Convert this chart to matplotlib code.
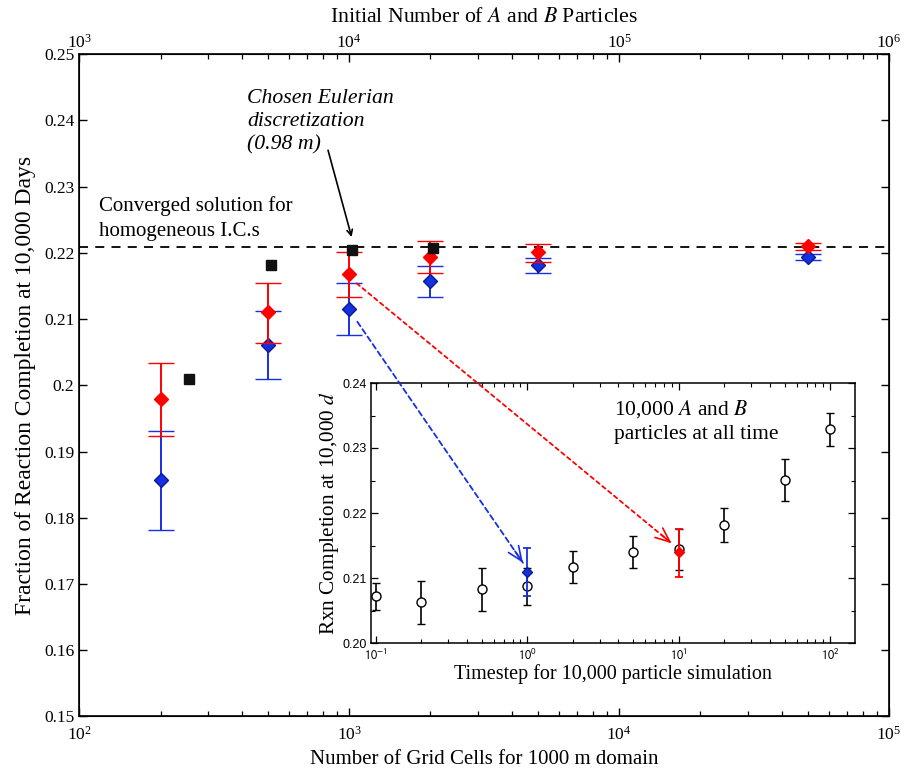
import numpy as np
import matplotlib
matplotlib.use('Agg')
import matplotlib.pyplot as plt
from matplotlib.ticker import FixedLocator, FuncFormatter, LogLocator, MultipleLocator
from matplotlib.patches import ConnectionPatch, FancyArrowPatch

plt.rcParams['font.family'] = ['Liberation Serif', 'DejaVu Serif']
plt.rcParams['mathtext.fontset'] = 'stix'

# ---------------- data ----------------
grid_cells = [200, 500, 1000, 2000, 5000, 50000]
red_mean = [0.1979, 0.2111, 0.2168, 0.2194, 0.2201, 0.2211]
red_lo = [0.1924, 0.2064, 0.2133, 0.2169, 0.2186, 0.2204]
red_hi = [0.2034, 0.2155, 0.2201, 0.2218, 0.2214, 0.2215]
blue_mean = [0.1857, 0.2061, 0.2115, 0.2158, 0.2181, 0.2194]
blue_lo = [0.1782, 0.2010, 0.2076, 0.2134, 0.2169, 0.2189]
blue_hi = [0.1931, 0.2112, 0.2154, 0.2180, 0.2193, 0.2198]
sq_cells = [256, 512, 1024, 2048]
sq_vals = [0.2010, 0.2182, 0.2204, 0.2208]
converged = 0.2209

main_yticks = [0.15, 0.16, 0.17, 0.18, 0.19, 0.20, 0.21, 0.22, 0.23, 0.24, 0.25]

inset_dt = [0.1, 0.2, 0.5, 1, 2, 5, 10, 20, 50, 100]
inset_mean = [0.2072, 0.2063, 0.2083, 0.2087, 0.2117, 0.2140, 0.2145, 0.2182, 0.2251, 0.2329]
inset_lo = [0.2051, 0.2030, 0.2050, 0.2058, 0.2093, 0.2116, 0.2113, 0.2156, 0.2219, 0.2303]
inset_hi = [0.2092, 0.2096, 0.2116, 0.2116, 0.2142, 0.2164, 0.2176, 0.2208, 0.2283, 0.2354]
inset_blue_dt = [1]
inset_blue_mean = [0.2110]
inset_blue_lo = [0.2073]
inset_blue_hi = [0.2146]
inset_red_dt = [10]
inset_red_mean = [0.2140]
inset_red_lo = [0.2102]
inset_red_hi = [0.2176]

RED = '#ff0000'
BLUE = '#1530e0'
BLUE_EDGE = '#0a1a90'

W, H = 905, 771
fig = plt.figure(figsize=(W / 100, H / 100), dpi=100)
ax = fig.add_axes([0.0876, 0.0709, 0.8947, 0.8587])

def err(mean, lo, hi):
    m = np.array(mean)
    return np.vstack([m - np.array(lo), np.array(hi) - m])

ax.errorbar(grid_cells, blue_mean, yerr=err(blue_mean, blue_lo, blue_hi), fmt='D',
            color=BLUE, mfc=BLUE, mec=BLUE_EDGE, ms=7.5, mew=1.0, elinewidth=1.4,
            capsize=9.5, capthick=1.4, zorder=3)
ax.errorbar(grid_cells, red_mean, yerr=err(red_mean, red_lo, red_hi), fmt='D',
            color=RED, mfc=RED, mec=RED, ms=7.5, mew=1.0, elinewidth=1.4,
            capsize=9.5, capthick=1.4, zorder=4)
ax.plot(sq_cells, sq_vals, 's', color='#111111', ms=7.5, zorder=5)
ax.axhline(converged, color='black', ls=(0, (5, 4)), lw=1.3, zorder=2)

ax.set_xscale('log')
ax.set_xlim(1e2, 1e5)
ax.set_ylim(0.15, 0.25)
ax.yaxis.set_major_locator(FixedLocator(main_yticks))
ax.yaxis.set_major_formatter(FuncFormatter(lambda v, p: '%g' % round(v, 3)))
ax.tick_params(axis='both', which='both', direction='in', top=False, right=True)
ax.tick_params(axis='both', which='major', length=6, width=1.0, labelsize=12.5)
ax.tick_params(axis='x', which='minor', length=3.5, width=0.9)
ax.tick_params(axis='x', which='major', pad=7)
for s in ax.spines.values():
    s.set_linewidth(1.2)
ax.set_xlabel('Number of Grid Cells for 1000 m domain', fontsize=15, labelpad=4)
ax.set_ylabel('Fraction of Reaction Completion at 10,000 Days', fontsize=17, labelpad=6)

top = ax.twiny()
top.set_xscale('log')
top.set_xlim(1e3, 1e6)
top.tick_params(axis='x', which='both', direction='in')
top.tick_params(axis='x', which='major', length=6, width=1.0, labelsize=12.5, pad=2)
top.tick_params(axis='x', which='minor', length=3.5, width=0.9)
top.set_xlabel('Initial Number of $\\it{A}$ and $\\it{B}$ Particles', fontsize=15.7, labelpad=8)

# annotations
fig.text(99.3 / W, 1 - 218.5 / H, 'Converged solution for\nhomogeneous I.C.s',
         fontsize=15, va='center', ha='left', linespacing=1.37)
fig.text(247 / W, 1 - 121.7 / H, 'Chosen Eulerian\ndiscretization\n(0.98 m)',
         fontsize=15.7, style='italic', va='center', ha='left', linespacing=1.29)
ax.annotate('', xy=(1021, 0.2224), xytext=(835, 0.2355),
            arrowprops=dict(arrowstyle='->', color='black', lw=1.2, shrinkA=0, shrinkB=0),
            annotation_clip=False)

# ---------------- inset ----------------
in_left, in_right, in_top, in_bot = 370.7, 855.0, 383.0, 643.0
axi = fig.add_axes([in_left / W, 1 - in_bot / H, (in_right - in_left) / W, (in_bot - in_top) / H])
axi.errorbar(inset_dt, inset_mean, yerr=err(inset_mean, inset_lo, inset_hi), fmt='o',
             color='black', mfc='white', mec='black', ms=6.5, mew=1.0, elinewidth=1.2,
             capsize=3, capthick=1.2, zorder=3)
axi.errorbar(inset_blue_dt, inset_blue_mean, yerr=err(inset_blue_mean, inset_blue_lo, inset_blue_hi),
             fmt='D', color=BLUE, mfc=BLUE, mec=BLUE_EDGE, ms=5, elinewidth=1.3,
             capsize=3, capthick=1.3, zorder=4)
axi.errorbar(inset_red_dt, inset_red_mean, yerr=err(inset_red_mean, inset_red_lo, inset_red_hi),
             fmt='D', color=RED, mfc=RED, mec=RED, ms=5.5, elinewidth=1.3,
             capsize=3, capthick=1.3, zorder=4)
axi.set_xscale('log')
axi.set_xlim(0.0925, 146)
axi.set_ylim(0.20, 0.24)
axi.yaxis.set_major_locator(MultipleLocator(0.01))
axi.yaxis.set_minor_locator(MultipleLocator(0.005))
axi.yaxis.set_major_formatter(FuncFormatter(lambda v, p: '%.2f' % v))
axi.xaxis.set_major_locator(LogLocator(base=10, numticks=10))
axi.xaxis.set_major_formatter(FuncFormatter(lambda v, p: '$10^{%d}$' % round(np.log10(v))))
axi.tick_params(axis='both', which='both', direction='in', top=True, right=True)
axi.tick_params(axis='both', which='major', length=5, width=0.9, labelsize=9)
axi.tick_params(axis='y', which='major', pad=2.5)
axi.tick_params(axis='both', which='minor', length=3, width=0.8)
for lab in axi.get_xticklabels() + axi.get_yticklabels():
    lab.set_fontfamily(['Liberation Sans', 'DejaVu Sans'])
    lab.set_math_fontfamily('stixsans')
for s in axi.spines.values():
    s.set_linewidth(1.1)
axi.set_xlabel('Timestep for 10,000 particle simulation', fontsize=14.5, labelpad=1)
axi.set_ylabel('Rxn Completion at 10,000 $\\it{d}$', fontsize=15.3, labelpad=1)
fig.text(613.6 / W, 1 - 421 / H, '10,000 $\\it{A}$ and $\\it{B}$\nparticles at all time',
         fontsize=15.5, ha='left', va='center', linespacing=1.3)

# dashed connection arrows
arrows = [
    ((1072, 0.2096), (0.936, 0.21235), BLUE, (0, (3, 2))),
    ((1066, 0.2154), (8.98, 0.21534), RED, (0, (2.2, 2))),
]
fig.canvas.draw()
inv = fig.transFigure.inverted()
for start, tip, col, ls in arrows:
    con = ConnectionPatch(xyA=start, coordsA=ax.transData, xyB=tip, coordsB=axi.transData,
                          color=col, lw=1.3, ls=ls, zorder=10)
    fig.add_artist(con)
    p0 = np.array(ax.transData.transform(start))
    p1 = np.array(axi.transData.transform(tip))
    d = (p1 - p0) / np.linalg.norm(p1 - p0)
    pb = p1 - d * 14
    fig.add_artist(FancyArrowPatch(
        posA=tuple(inv.transform(pb)), posB=tuple(inv.transform(p1)),
        transform=fig.transFigure, arrowstyle='->,head_length=1.3,head_width=0.55',
        mutation_scale=8, color=col, lw=1.2, shrinkA=0, shrinkB=0, zorder=11))

fig.savefig('out.png', dpi=100)
